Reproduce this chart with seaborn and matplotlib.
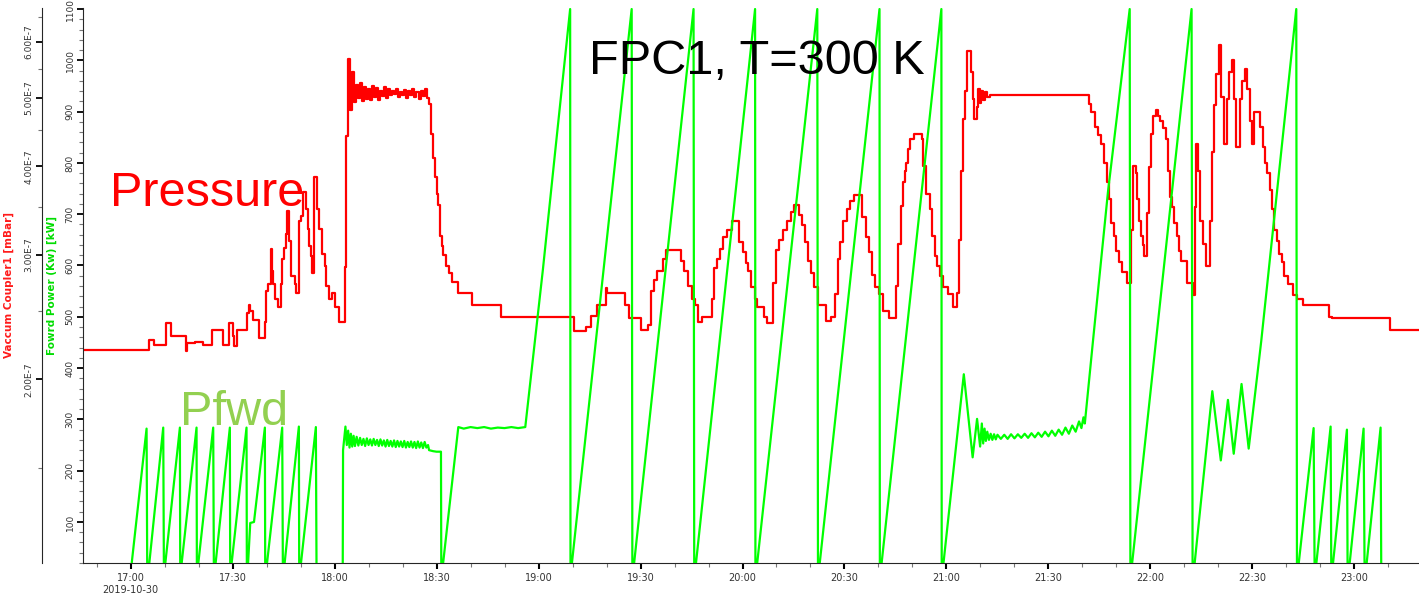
import matplotlib
matplotlib.use('Agg')
import matplotlib.pyplot as plt
import matplotlib.ticker as mticker
import matplotlib.dates as mdates
import numpy as np
import pandas as pd
import seaborn as sns

# minutes after 17:00 (2019-10-30)
p_minutes = [-14, 5.4, 6.9, 10.3, 11.8, 16.3, 16.6, 18.9, 21.2, 23.8, 27.2, 28.9, 30.0, 30.4, 31.2,
             34.1, 34.7, 35.2, 36.1, 37.8, 39.5, 39.8, 40.5, 41.2, 41.6, 41.9, 42.4, 43.4, 44.2, 44.6,
             45.1, 45.6, 46.0, 46.6, 47.1, 48.3, 48.8, 49.5, 50.0, 50.6, 50.8, 51.6, 52.1, 52.5, 53.0,
             53.4, 54.0, 54.9, 55.5, 56.2, 57.1, 57.6, 58.4, 59.1, 60.1, 61.4, 63.0, 63.5, 64.0, 64.5,
             65.1, 65.7, 66.3, 67.0, 67.5, 68.0, 68.6, 69.2, 69.8, 70.3, 70.9, 71.5, 72.1, 72.7, 73.3,
             73.9, 74.5, 75.1, 75.7, 76.3, 76.9, 77.5, 78.1, 78.7, 79.3, 79.9, 80.5, 81.1, 81.7, 82.3,
             82.9, 83.5, 84.1, 84.7, 85.3, 85.9, 86.5, 87.1, 87.8, 88.5, 89.0, 89.5, 90.0, 90.5, 91.0,
             91.5, 91.9, 92.9, 93.7, 94.4, 96.4, 100.3, 108.9, 130.5, 133.9, 135.3, 137.3, 139.7, 140.2,
             145.5, 146.6, 150.2, 152.3, 153.0, 153.9, 154.9, 156.5, 157.6, 161.8, 162.8, 163.9, 165.1,
             166.0, 167.0, 168.0, 171.0, 171.7, 172.6, 173.3, 174.2, 175.4, 177.0, 178.9, 180.2, 180.9,
             181.6, 182.6, 183.8, 184.4, 186.4, 187.1, 189.1, 189.9, 190.7, 192.0, 193.1, 194.3, 195.2,
             196.6, 197.5, 198.5, 199.4, 200.1, 201.1, 202.1, 204.6, 205.9, 207.1, 208.0, 208.8, 209.6,
             210.6, 211.7, 212.7, 215.1, 216.2, 217.2, 218.0, 219.0, 220.1, 221.2, 223.1, 225.1, 225.8,
             226.5, 227.1, 227.8, 228.2, 228.7, 229.4, 230.4, 232.7, 233.1, 234.1, 235.1, 235.8, 236.6,
             237.3, 238.1, 239.0, 240.5, 242.0, 243.1, 243.7, 244.4, 244.9, 245.4, 246.1, 247.1, 247.7,
             248.2, 248.9, 249.3, 249.8, 250.3, 250.8, 251.3, 251.8, 252.7, 281.9, 282.6, 283.6, 284.6,
             285.4, 286.3, 287.1, 287.8, 288.5, 289.2, 290.0, 290.8, 291.5, 293.1, 294.3, 294.8, 295.7,
             296.1, 296.7, 297.2, 297.7, 298.2, 299.0, 299.5, 300.1, 300.8, 301.6, 302.2, 302.8, 303.6,
             304.6, 305.2, 305.7, 306.3, 306.9, 307.7, 308.4, 309.1, 310.8, 312.4, 313.0, 313.5, 314.1,
             314.7, 315.5, 316.3, 317.4, 318.2, 318.7, 319.4, 320.2, 320.9, 321.6, 322.4, 323.1, 324.1,
             324.5, 325.3, 326.3, 327.0, 327.7, 328.4, 329.2, 330.0, 330.4, 332.3, 333.1, 333.8, 334.4,
             335.1, 335.7, 336.3, 337.1, 337.9, 338.6, 339.3, 340.5, 342.0, 343.0, 344.9, 352.5, 353.4,
             370.4, 379]
# pressure, units of 1e-7 mBar
p_values = [2.20, 2.27, 2.24, 2.40, 2.30, 2.19, 2.25, 2.26, 2.24, 2.35, 2.24, 2.40, 2.30, 2.23, 2.35,
            2.48, 2.55, 2.50, 2.43, 2.29, 2.41, 2.67, 2.73, 3.06, 2.85, 2.73, 2.60, 2.53, 2.73, 2.96,
            3.07, 3.21, 3.46, 3.14, 2.80, 2.73, 2.65, 3.35, 3.40, 3.57, 3.68, 3.48, 3.26, 3.09, 2.99,
            2.83, 3.86, 3.48, 3.26, 3.01, 2.89, 2.71, 2.60, 2.65, 2.53, 2.41, 2.88, 4.42, 5.67, 4.80,
            5.44, 4.93, 5.21, 5.00, 5.25, 4.95, 5.18, 4.98, 5.15, 4.96, 5.20, 5.02, 5.16, 4.97, 5.12,
            5.03, 5.18, 5.00, 5.14, 5.04, 5.12, 5.06, 5.15, 5.02, 5.10, 5.05, 5.13, 5.00, 5.12, 5.04,
            5.15, 5.02, 5.10, 4.98, 5.12, 5.03, 5.14, 5.00, 4.90, 4.45, 4.11, 3.86, 3.66, 3.53, 3.19,
            3.09, 3.00, 2.89, 2.83, 2.75, 2.65, 2.55, 2.45, 2.34, 2.37, 2.46, 2.55, 2.69, 2.65,
            2.55, 2.44, 2.35, 2.39, 2.67, 2.76, 2.85, 2.96, 3.05, 2.94, 2.85, 2.71, 2.60,
            2.55, 2.41, 2.45, 2.60, 2.87, 2.96, 3.06, 3.18, 3.25, 3.35, 3.13, 3.03, 2.92,
            2.85, 2.70, 2.60, 2.53, 2.45, 2.40, 2.74, 3.05, 3.15, 3.25, 3.35, 3.45, 3.53,
            3.41, 3.31, 3.13, 2.94, 2.83, 2.70, 2.55, 2.42, 2.45, 2.64, 2.96, 3.13, 3.35,
            3.48, 3.57, 3.64, 3.39, 3.18, 3.03, 2.81, 2.70, 2.64, 2.50, 2.44, 2.71, 3.11,
            3.52, 3.80, 3.94, 4.05, 4.24, 4.38, 4.45, 4.38, 4.01, 3.66, 3.48, 3.19, 2.99,
            2.89, 2.80, 2.70, 2.64, 2.53, 2.65, 3.15, 3.94, 4.67, 5.12, 5.83, 5.44, 4.98,
            4.67, 4.85, 5.15, 4.92, 5.12, 4.97, 5.10, 5.01, 5.05, 4.90, 4.77, 4.55, 4.43,
            4.30, 4.05, 3.80, 3.60, 3.33, 3.19, 3.04, 2.93, 2.84, 2.74, 3.25, 4.01, 3.92,
            3.60, 3.35, 3.19, 3.10, 2.99, 3.44, 3.99, 4.45, 4.71, 4.80, 4.72, 4.64, 4.53,
            4.38, 3.94, 3.62, 3.50, 3.33, 3.19, 3.04, 2.94, 2.74, 2.63, 3.50, 4.30, 3.94,
            3.35, 3.11, 2.89, 3.35, 4.19, 4.89, 5.41, 5.94, 5.01, 4.30, 4.98, 5.44, 5.65,
            4.98, 4.26, 4.98, 5.29, 5.50, 5.15, 4.64, 4.30, 4.77, 4.55, 4.26, 4.05, 3.92,
            3.70, 3.48, 3.25, 3.14, 3.01, 2.93, 2.80, 2.73, 2.63, 2.60, 2.55, 2.45, 2.44,
            2.35, 2.35]

pfwd_minutes = [-14, 0.0, 4.7, 4.9, 5.2, 9.6, 9.8, 9.9, 14.5, 14.6, 14.7, 19.4, 19.5, 19.6, 24.3, 24.5,
                24.7, 29.2, 29.3, 29.4, 34.1, 34.2, 34.4, 35.2, 36.3, 39.5, 39.6, 39.8, 44.6, 44.8,
                45.0, 49.5, 49.6, 49.8, 54.5, 54.7, 62.4, 62.5, 63.2, 63.6, 64.0, 64.4, 64.8, 65.2,
                65.6, 66.0, 66.5, 67.0, 67.5, 68.0, 68.5, 69.0, 69.5, 70.0, 70.5, 71.0, 71.5, 72.0,
                72.5, 73.0, 73.5, 74.0, 74.5, 75.0, 75.5, 76.0, 76.5, 77.0, 77.5, 78.0, 78.5, 79.0,
                79.5, 80.0, 80.5, 81.0, 81.5, 82.0, 82.5, 83.0, 83.5, 84.0, 84.5, 85.0, 85.5, 86.0,
                86.5, 87.0, 87.5, 87.8, 89.0, 90.0, 91.3, 91.4, 91.6, 96.4, 98, 100, 102, 104, 106,
                108, 110, 112, 114, 116.1, 121.3, 124.8, 129.3, 129.4, 129.5, 147.4, 147.6, 147.8,
                165.6, 165.8, 166.0, 183.7, 183.8, 184.0, 202.0, 202.2, 202.4, 220.3, 220.4, 220.6,
                238.5, 238.6, 238.8, 245.1, 247.7, 249.0, 249.9, 250.4, 250.8, 251.2, 251.6, 252.0,
                252.5, 253.0, 253.5, 254.0, 254.5, 255.0, 256, 257, 258, 259, 260, 261, 262, 263,
                264, 265, 266, 267, 268, 269, 270, 271, 272, 273, 274, 275, 276, 277, 278, 279,
                279.7, 280.3, 280.7, 283.1, 287.5, 293.9, 294.1, 294.3, 312.1, 312.4, 312.7, 318.2,
                320.7, 322.8, 324.5, 326.8, 328.9, 332.6, 342.9, 343.1, 343.3, 348.0, 348.3, 348.5,
                353.0, 353.2, 353.4, 357.8, 358.0, 358.3, 362.7, 363.0, 363.3, 367.7, 367.9, 379]
# forward power, kW
pfwd_values = [0, 0, 282, 0, 0, 284, 0, 0, 284, 0, 0, 284, 0, 0, 284, 0,
               0, 284, 0, 0, 284, 0, 0, 98, 100, 284, 0, 0, 284, 0,
               0, 286, 0, 0, 285, 0, 0, 240, 286, 250, 278, 245, 272, 247,
               268, 248, 266, 249, 264, 250, 262, 248, 263, 250, 261, 249, 262, 250,
               260, 248, 261, 249, 259, 247, 260, 248, 258, 247, 259, 246, 258, 247,
               257, 246, 258, 245, 256, 246, 257, 245, 256, 244, 257, 245, 255, 244,
               256, 245, 250, 240, 238, 237, 237, 0, 0, 285, 282, 285, 283, 285, 282,
               284, 283, 285, 283, 285, 593, 816, 1100, 0, 0, 1100, 0, 0,
               1100, 0, 0, 1100, 0, 0, 1100, 0, 0, 1100, 0, 0,
               1100, 0, 0, 388, 226, 301, 247, 292, 253, 282, 258, 276,
               260, 272, 260, 271, 261, 270, 262, 270, 262, 271, 263, 271, 264, 272,
               264, 273, 265, 274, 266, 276, 267, 278, 268, 280, 270, 284, 272, 288, 276, 296,
               283, 304, 292, 453, 743, 1100, 0, 0, 1100, 0, 0, 355,
               220, 338, 233, 369, 243, 453, 1100, 0, 0, 283, 0, 0,
               286, 0, 0, 280, 0, 0, 282, 0, 0, 284, 0, 0]

x_tick_times = ['17:00', '17:30', '18:00', '18:30', '19:00', '19:30', '20:00',
                '20:30', '21:00', '21:30', '22:00', '22:30', '23:00']
x_tick_labels = ['17:00\n2019-10-30', '17:30', '18:00', '18:30', '19:00', '19:30', '20:00',
                 '20:30', '21:00', '21:30', '22:00', '22:30', '23:00']
p_ticks = [2, 3, 4, 5, 6]
p_tick_labels = ['2.00E-7', '3.00E-7', '4.00E-7', '5.00E-7', '6.00E-7']
p_minor_ticks = [1.5, 2.5, 3.5, 4.5, 5.5, 6.5]
pfwd_ticks = [100, 200, 300, 400, 500, 600, 700, 800, 900, 1000, 1100]

t0 = pd.Timestamp('2019-10-30 17:00')
df_p = pd.DataFrame({'time': t0 + pd.to_timedelta(p_minutes, unit='min'),
                     'pressure': np.array(p_values) * 1e-7})
df_f = pd.DataFrame({'time': t0 + pd.to_timedelta(pfwd_minutes, unit='min'),
                     'pfwd': pfwd_values})

sns.set_style('ticks')
plt.rcParams['font.family'] = ['DejaVu Sans']

W, H = 1419, 600
fig = plt.figure(figsize=(W / 100, H / 100), dpi=100)
ax = fig.add_axes([83 / W, 37 / H, 1336 / W, 555 / H])
ax_f = ax.twinx()

sns.lineplot(data=df_p, x='time', y='pressure', ax=ax, color='#ff0000', lw=1.6,
             drawstyle='steps-post', estimator=None, sort=False)
sns.lineplot(data=df_f, x='time', y='pfwd', ax=ax_f, color='#00ff00', lw=1.6,
             estimator=None, sort=False)

ax.set_xlim(t0 + pd.Timedelta(minutes=-14), t0 + pd.Timedelta(minutes=379))

# pressure axis (log, offset to the left)
ax.set_yscale('log')
ax.set_ylim(1.10e-7, 6.7e-7)
ax.yaxis.set_major_locator(mticker.FixedLocator([v * 1e-7 for v in p_ticks]))
ax.yaxis.set_major_formatter(mticker.FixedFormatter(p_tick_labels))
ax.yaxis.set_minor_locator(mticker.FixedLocator([v * 1e-7 for v in p_minor_ticks]))
ax.yaxis.set_minor_formatter(mticker.NullFormatter())
ax.spines['left'].set_position(('outward', 29.5))
for s in ['top', 'right']:
    ax.spines[s].set_visible(False)
ax.set_ylabel('Vaccum Coupler1 [mBar]', color='#ff1a1a', fontsize=7.5, fontweight='bold')
ax.yaxis.set_label_coords(-0.0516, 0.5)

# forward power axis
ax_f.yaxis.tick_left()
ax_f.yaxis.set_label_position('left')
ax_f.set_ylim(20, 1102)
ax_f.yaxis.set_major_locator(mticker.FixedLocator(pfwd_ticks))
ax_f.yaxis.set_minor_locator(mticker.MultipleLocator(20))
for s in ['top', 'right', 'bottom']:
    ax_f.spines[s].set_visible(False)
ax_f.set_ylabel('Fowrd Power (Kw) [kW]', color='#00dd00', fontsize=7.5, fontweight='bold')
ax_f.yaxis.set_label_coords(-0.0195, 0.5)

# time axis
ax.set_xticks([pd.Timestamp('2019-10-30 ' + t) for t in x_tick_times])
ax.set_xticklabels(x_tick_labels)
ax.xaxis.set_minor_locator(mdates.MinuteLocator(byminute=[0, 10, 20, 30, 40, 50]))
ax.set_xlabel('')

for a in (ax, ax_f):
    a.tick_params(axis='y', which='major', direction='out', length=4.5, width=1.3,
                  color='black', labelsize=6.5, labelrotation=90, pad=1.5, labelcolor='#333333')
    a.tick_params(axis='y', which='minor', direction='out', length=3, width=0.8, color='#777777')
ax.tick_params(axis='x', which='major', direction='out', length=4.5, width=1.5, color='black',
               labelsize=7, pad=3, labelcolor='#333333')
ax.tick_params(axis='x', which='minor', direction='out', length=3, width=0.8, color='#777777')
for lab in ax.get_yticklabels() + ax_f.get_yticklabels():
    lab.set_verticalalignment('center')

fig.text(757 / W, 1 - 74 / H, 'FPC1, T=300 K', fontsize=35, family='Liberation Sans',
         color='black', ha='center', va='baseline')
fig.text(110 / W, 1 - 206 / H, 'Pressure', fontsize=35, family='Liberation Sans',
         color='#ff0000', ha='left', va='baseline')
fig.text(180 / W, 1 - 425 / H, 'Pfwd', fontsize=35, family='Liberation Sans',
         color='#92d050', ha='left', va='baseline')

fig.savefig('out.png', dpi=100)
